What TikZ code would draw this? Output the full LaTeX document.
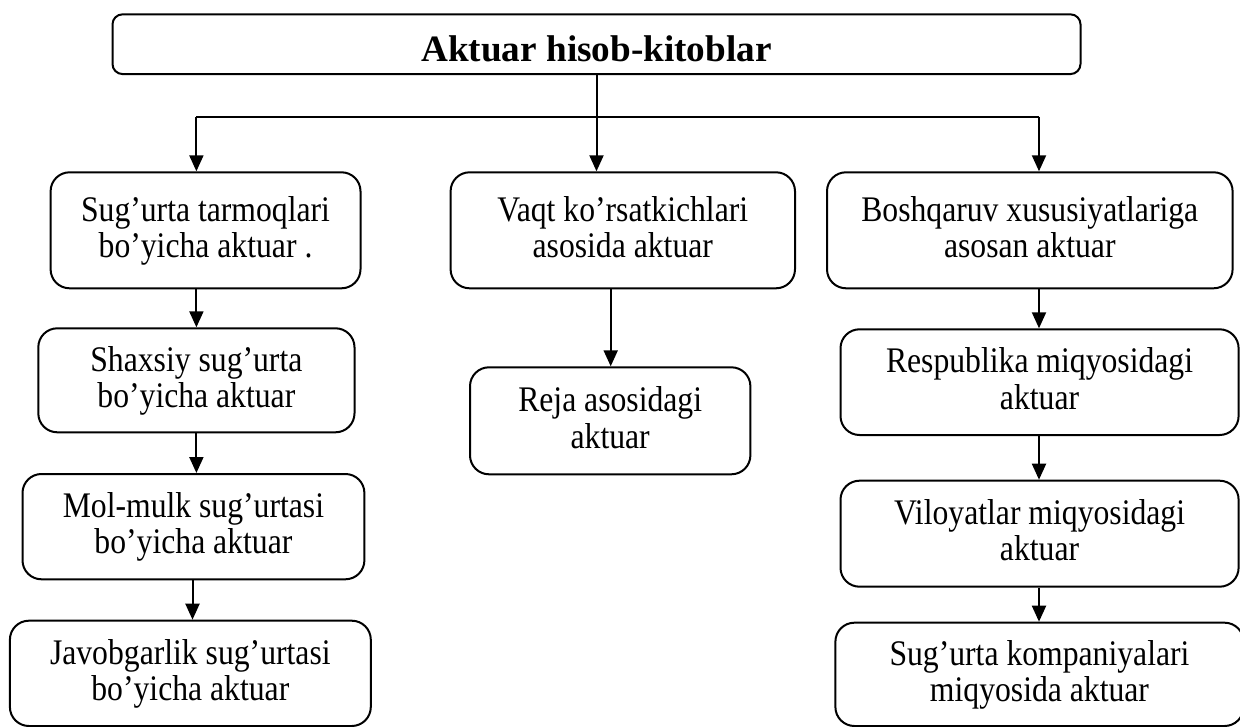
\documentclass[tikz,border=0pt]{standalone}
\usepackage{fontspec}
\setmainfont{Liberation Serif}
\newfontfamily\bodyfont{Liberation Serif}[FakeStretch=0.88]
\usetikzlibrary{arrows.meta}
% two centred lines with a fixed top height and bottom depth
\newcommand\twolines[2]{\rule{0pt}{27pt}#1\\#2\rule[-9pt]{0pt}{9pt}}
\begin{document}
\begin{tikzpicture}[x=1pt,y=-1pt,
  box/.style={draw, line width=2pt, rounded corners=19pt, align=center, inner sep=0pt,
              font=\bodyfont\fontsize{36}{36.5}\selectfont},
  titlebox/.style={draw, line width=2pt, rounded corners=10pt, inner sep=0pt,
              font=\fontsize{37.2}{44}\selectfont\bfseries, text height=35pt, text depth=0pt},
  conn/.style={line width=2pt},
  arr/.style={line width=2pt, -{Triangle[length=16pt,width=14pt]}}]
\useasboundingbox (0,0) rectangle (1240,727);

% title
\node[titlebox, minimum width=968pt, minimum height=59.7pt] (top) at (596.5,44.2) {Aktuar hisob-kitoblar};

% first row
\node[box, minimum width=309.9pt, minimum height=116pt] (b1) at (205.55,230.3)
  {\twolines{Sug’urta tarmoqlari}{bo’yicha aktuar .}};
\node[box, minimum width=344.4pt, minimum height=116pt] (b2) at (622.8,230.3)
  {\twolines{Vaqt ko’rsatkichlari}{asosida aktuar}};
\node[box, minimum width=405.6pt, minimum height=116pt] (b3) at (1029.8,230.3)
  {\twolines{Boshqaruv xususiyatlariga}{asosan aktuar}};

% left column
\node[box, minimum width=316.2pt, minimum height=104pt] (s1) at (196.4,380.3)
  {\twolines{Shaxsiy sug’urta}{bo’yicha aktuar}};
\node[box, minimum width=341.9pt, minimum height=105.3pt] (s2) at (193.45,526.65)
  {\twolines{Mol-mulk sug’urtasi}{bo’yicha aktuar}};
\node[box, minimum width=360.9pt, minimum height=105.3pt] (s3) at (190.35,673.35)
  {\twolines{Javobgarlik sug’urtasi}{bo’yicha aktuar}};

% middle column
\node[box, minimum width=280.4pt, minimum height=107pt] (m1) at (610.2,420.8)
  {\twolines{Reja asosidagi}{aktuar}};

% right column
\node[box, minimum width=398.1pt, minimum height=105.7pt] (r1) at (1039.55,382.15)
  {\twolines{Respublika miqyosidagi}{aktuar}};
\node[box, minimum width=398.1pt, minimum height=106pt] (r2) at (1039.55,533.7)
  {\twolines{Viloyatlar miqyosidagi}{aktuar}};
\node[box, minimum width=408.2pt, minimum height=103.3pt] (r3) at (1039.5,674.35)
  {\twolines{Sug’urta kompaniyalari}{miqyosida aktuar}};

% branching bar under the title
\coordinate (jL) at (196.4,116.7);
\coordinate (jR) at (1039,116.7);
\coordinate (xL2) at (192.5,0);
\coordinate (xM) at (610.7,0);

\draw[conn] (top.south) -- (top.south |- jL);
\draw[conn] (jL) -- (jR);
\draw[arr] (jL) -- (jL |- b1.north);
\draw[arr] (top.south) -- (top.south |- b2.north);
\draw[arr] (jR) -- (jR |- b3.north);

% chains
\draw[arr] (jL |- b1.south) -- (jL |- s1.north);
\draw[arr] (jL |- s1.south) -- (jL |- s2.north);
\draw[arr] (xL2 |- s2.south) -- (xL2 |- s3.north);
\draw[arr] (xM |- b2.south) -- (xM |- m1.north);
\draw[arr] (jR |- b3.south) -- (jR |- r1.north);
\draw[arr] (jR |- r1.south) -- (jR |- r2.north);
\draw[arr] (jR |- r2.south) -- (jR |- r3.north);
\end{tikzpicture}
\end{document}
